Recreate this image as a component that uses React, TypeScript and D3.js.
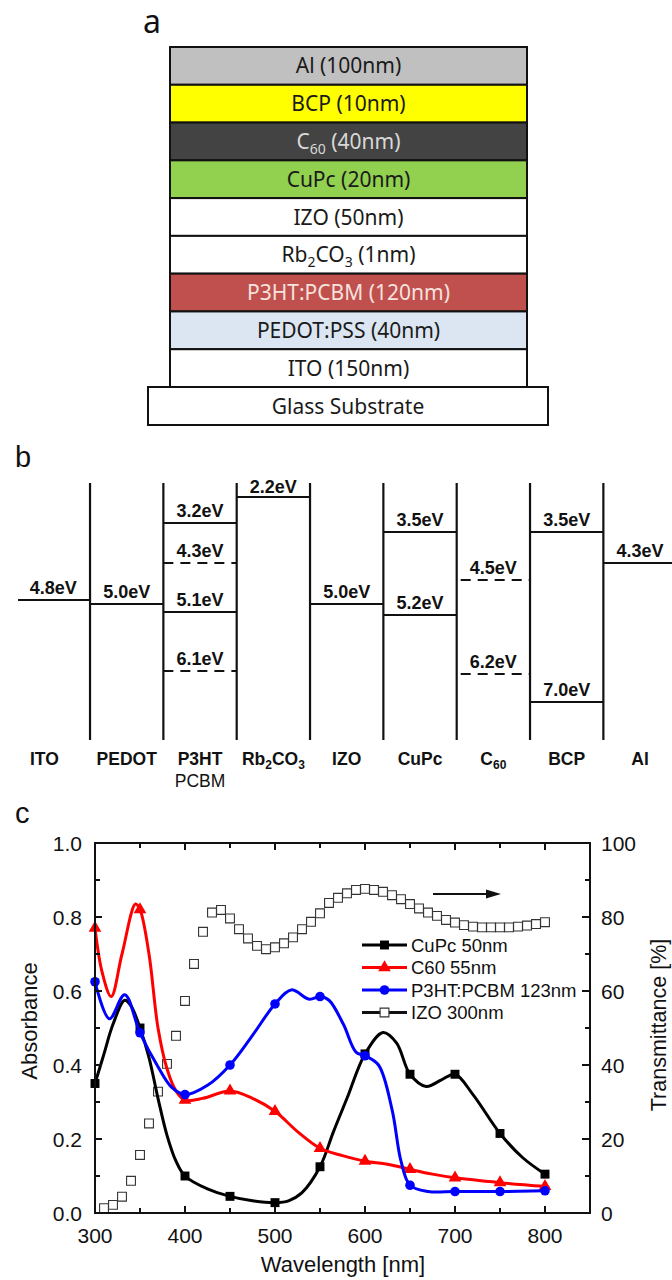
import React from 'react';
import * as d3 from 'd3';

// ---------- panel a : device stack (top to bottom) ----------
const layers = ['Al (100nm)', 'BCP (10nm)', 'C_60 (40nm)', 'CuPc (20nm)', 'IZO (50nm)', 'Rb_2CO_3 (1nm)', 'P3HT:PCBM (120nm)', 'PEDOT:PSS (40nm)', 'ITO (150nm)'];
const substrate = 'Glass Substrate';

// ---------- panel b : energy levels ----------
const materials = ['ITO', 'PEDOT', 'P3HT', 'Rb_2CO_3', 'IZO', 'CuPc', 'C_60', 'BCP', 'Al'];
const levelMaterial = ['ITO', 'PEDOT', 'P3HT', 'P3HT', 'P3HT', 'P3HT', 'Rb_2CO_3', 'IZO', 'CuPc', 'CuPc', 'C_60', 'C_60', 'BCP', 'BCP', 'Al'];
const levelEnergy = [4.8, 5.0, 3.2, 4.3, 5.1, 6.1, 2.2, 5.0, 3.5, 5.2, 4.5, 6.2, 3.5, 7.0, 4.3];
const levelDashed = [false, false, false, true, false, true, false, false, false, false, true, true, false, false, false];

// ---------- panel c : absorbance / transmittance ----------
const cupcWl = [300, 310, 320, 333, 340, 350, 360, 370, 380, 390, 400, 425, 450, 475, 500, 515, 530, 550, 565, 580, 600, 620, 635, 650, 668, 685, 700, 720, 750, 775, 800];
const cupcAbs = [0.35, 0.43, 0.51, 0.575, 0.56, 0.50, 0.42, 0.31, 0.21, 0.14, 0.10, 0.065, 0.045, 0.033, 0.028, 0.033, 0.055, 0.125, 0.22, 0.31, 0.43, 0.488, 0.46, 0.375, 0.342, 0.36, 0.375, 0.32, 0.215, 0.15, 0.105];

const c60Wl = [300, 308, 318, 330, 345, 350, 360, 370, 380, 390, 400, 420, 450, 475, 500, 525, 550, 575, 600, 625, 650, 675, 700, 750, 800];
const c60Abs = [0.77, 0.65, 0.585, 0.70, 0.835, 0.82, 0.70, 0.50, 0.39, 0.33, 0.305, 0.31, 0.33, 0.31, 0.275, 0.22, 0.175, 0.155, 0.14, 0.132, 0.118, 0.105, 0.095, 0.082, 0.072];

const p3htWl = [300, 316, 333, 350, 370, 385, 400, 425, 450, 475, 500, 518, 538, 550, 560, 576, 590, 600, 615, 630, 640, 650, 670, 700, 750, 800];
const p3htAbs = [0.625, 0.525, 0.59, 0.487, 0.395, 0.34, 0.32, 0.345, 0.40, 0.48, 0.565, 0.603, 0.578, 0.585, 0.575, 0.51, 0.435, 0.425, 0.40, 0.28, 0.14, 0.075, 0.058, 0.058, 0.058, 0.06];

const izoWl = [310, 320, 330, 340, 350, 360, 370, 380, 390, 400, 410, 420, 430, 440, 450, 460, 470, 480, 490, 500, 510, 520, 530, 540, 550, 560, 570, 580, 590, 600, 610, 620, 630, 640, 650, 660, 670, 680, 690, 700, 710, 720, 730, 740, 750, 760, 770, 780, 790, 800];
const izoT = [1.3, 2.2, 4.4, 8.7, 15.7, 24.2, 32.8, 40.3, 47.9, 57.3, 67.3, 76, 81.2, 81.9, 79.6, 76.7, 74.2, 72.2, 71.3, 71.8, 72.9, 74.5, 76.7, 78.7, 81, 83.8, 85.2, 86.4, 87.3, 87.6, 87.3, 86.8, 85.9, 84.8, 83.5, 82.3, 81.2, 80.3, 79.2, 78.5, 77.8, 77.4, 77.2, 77.2, 77.2, 77.2, 77.4, 77.7, 78.1, 78.6];

const legendNames = ['CuPc 50nm', 'C60 55nm', 'P3HT:PCBM 123nm', 'IZO 300nm'];

// styles
const layerStyle: Record<string, { bg: string; fg: string }> = {
  'Al (100nm)': { bg: '#c0c0c0', fg: '#1a1a1a' },
  'BCP (10nm)': { bg: '#ffff00', fg: '#1a1a1a' },
  'C_60 (40nm)': { bg: '#434343', fg: '#d8d8d8' },
  'CuPc (20nm)': { bg: '#92d050', fg: '#1a1a1a' },
  'IZO (50nm)': { bg: '#ffffff', fg: '#1a1a1a' },
  'Rb_2CO_3 (1nm)': { bg: '#ffffff', fg: '#1a1a1a' },
  'P3HT:PCBM (120nm)': { bg: '#c0504d', fg: '#f6e2de' },
  'PEDOT:PSS (40nm)': { bg: '#dce6f2', fg: '#1a1a1a' },
  'ITO (150nm)': { bg: '#ffffff', fg: '#1a1a1a' },
};

const ARIAL = '"Liberation Sans", Arial, sans-serif';
const KFONT = '"Noto Sans", "Open Sans", sans-serif';

// text with _digits subscripts
function Rich({ s, sub, shift }: { s: string; sub: number; shift: number }) {
  const raw = s.split(/_(\d+)/).map((t, i) => ({ t, sub: i % 2 === 1 })).filter(p => p.t !== '');
  let prev = false;
  return (
    <>
      {raw.map((p, i) => {
        const dy = p.sub && !prev ? shift : !p.sub && prev ? -shift : 0;
        prev = p.sub;
        return (
          <tspan key={i} dy={dy} fontSize={p.sub ? sub : undefined}>{p.t}</tspan>
        );
      })}
    </>
  );
}

function PanelA() {
  const y = d3.scaleBand().domain(layers).range([47, 387]);
  const x0 = 170, x1 = 527;
  return (
    <g>
      <text x={143} y={33} fontFamily={KFONT} fontSize={32} fill="#111">a</text>
      {layers.map(l => (
        <g key={l}>
          <rect x={x0} y={y(l)} width={x1 - x0} height={y.bandwidth()} fill={layerStyle[l].bg} stroke="#111" strokeWidth={2} />
          <text x={(x0 + x1) / 2} y={(y(l) as number) + y.bandwidth() / 2 + 7.5} textAnchor="middle" fontFamily={KFONT} fontSize={21} fill={layerStyle[l].fg} style={{ whiteSpace: 'pre' }}>
            <Rich s={l} sub={14} shift={5} />
          </text>
        </g>
      ))}
      <rect x={148} y={387} width={400} height={38} fill="#fff" stroke="#111" strokeWidth={2} />
      <text x={348} y={413.5} textAnchor="middle" fontFamily={KFONT} fontSize={21} fill="#1a1a1a">{substrate}</text>
    </g>
  );
}

function PanelB() {
  const xcol = d3.scaleLinear().domain([0, materials.length]).range([16.7, 676.7]);
  const eStops = [2.2, 3.2, 3.5, 4.3, 4.5, 4.8, 5.0, 5.1, 5.2, 6.1, 6.2, 7.0];
  // the drawing is schematic (not to scale): piecewise scale
  const yE = d3.scaleLinear().domain(eStops).range([497, 523, 532, 563, 580, 600, 604, 612, 615, 671, 674, 702]);
  const top = 483, bottom = 740;
  return (
    <g fontFamily={ARIAL}>
      <text x={15} y={467} fontSize={29} fill="#111">b</text>
      {d3.range(1, materials.length).map(i => (
        <line key={i} x1={xcol(i)} x2={xcol(i)} y1={top} y2={bottom} stroke="#111" strokeWidth={2.2} />
      ))}
      {levelEnergy.map((e, k) => {
        const ci = materials.indexOf(levelMaterial[k]);
        let xa = xcol(ci), xb = xcol(ci + 1);
        if (ci === 0) xa = 18;
        if (ci === materials.length - 1) xb = 672;
        if (levelDashed[k] && levelMaterial[k] === 'C_60') xa += 4;
        const yy = yE(e);
        return (
          <g key={k}>
            <line x1={xa} x2={xb} y1={yy} y2={yy} stroke="#111" strokeWidth={2}
              strokeDasharray={levelDashed[k] ? '10 7' : undefined} />
            <text x={(xcol(ci) + xcol(ci + 1)) / 2} y={yy - (e < 2.5 ? 4 : 6)} textAnchor="middle" fontSize={18} fontWeight="bold" fill="#111">
              {d3.format('.1f')(e)}eV
            </text>
          </g>
        );
      })}
      {materials.map((m, i) => (
        <text key={m} x={(xcol(i) + xcol(i + 1)) / 2 + (i === 0 ? -9 : 0)} y={765} textAnchor="middle" fontSize={17.5} fontWeight="bold" fill="#111">
          <Rich s={m} sub={12} shift={4} />
        </text>
      ))}
      <text x={(xcol(2) + xcol(3)) / 2} y={787} textAnchor="middle" fontSize={17.5} fill="#111">PCBM</text>
    </g>
  );
}

function PanelC() {
  const L = 95, R = 590, T = 843, B = 1213;
  const x = d3.scaleLinear().domain([300, 850]).range([L, R]);
  const yL = d3.scaleLinear().domain([0, 1]).range([B, T]);
  const yR = d3.scaleLinear().domain([0, 100]).range([B, T]);

  const line = d3.line<[number, number]>()
    .x(d => x(d[0]))
    .y(d => yL(d[1]))
    .curve(d3.curveCatmullRom.alpha(0.5));

  const series = [
    { wl: cupcWl, v: cupcAbs, color: '#000000', type: d3.symbolSquare, size: 80 },
    { wl: c60Wl, v: c60Abs, color: '#ff0000', type: d3.symbolTriangle, size: 70 },
    { wl: p3htWl, v: p3htAbs, color: '#0000ff', type: d3.symbolCircle, size: 72 },
  ];

  const xMajor = x.ticks(5).filter(t => t < 850);
  const xMinor = x.ticks(11).filter(t => t < 850 && t > 300);
  const yMajor = yL.ticks(5);
  const yMinor = yL.ticks(10);
  const rMajor = yR.ticks(5);
  const rMinor = yR.ticks(10);

  const lx0 = 362, lx1 = 407, ltx = 411;
  const legY = [945, 967.5, 990, 1012.5];

  return (
    <g fontFamily={ARIAL}>
      <text x={15} y={823} fontSize={29} fill="#111">c</text>

      {/* IZO transmittance (right axis) */}
      {izoWl.map((w, i) => (
        <path key={w} transform={`translate(${x(w)},${yR(izoT[i])})`} d={d3.symbol(d3.symbolSquare, 78)() as string}
          fill="#fff" stroke="#333" strokeWidth={1.1} />
      ))}

      {series.map((s, si) => {
        const pts = s.wl.map((w, i) => [w, s.v[i]] as [number, number]);
        return (
          <g key={si}>
            <path d={line(pts) as string} fill="none" stroke={s.color} strokeWidth={3} />
            {pts.filter(p => p[0] % 50 === 0).map(p => (
              <path key={p[0]} transform={`translate(${x(p[0])},${yL(p[1])})`} d={d3.symbol(s.type, s.size)() as string} fill={s.color} />
            ))}
          </g>
        );
      })}

      {/* arrow pointing to the right axis */}
      <line x1={433} x2={489} y1={894} y2={894} stroke="#111" strokeWidth={2} />
      <path d="M486,889.5 L501,894 L486,898.5 Z" fill="#111" />

      {/* legend */}
      {legendNames.map((n, i) => {
        const yy = legY[i];
        const s = series[i];
        return (
          <g key={n}>
            {i < 3 ? (
              <>
                <line x1={lx0} x2={lx1} y1={yy} y2={yy} stroke={s.color} strokeWidth={3} />
                <path transform={`translate(${(lx0 + lx1) / 2},${yy})`} d={d3.symbol(s.type, s.size)() as string} fill={s.color} />
              </>
            ) : (
              <>
                <line x1={lx0} x2={lx1} y1={yy} y2={yy} stroke="#111" strokeWidth={3} />
                <path transform={`translate(${(lx0 + lx1) / 2},${yy})`} d={d3.symbol(d3.symbolSquare, 78)() as string} fill="#fff" stroke="#333" strokeWidth={1.1} />
              </>
            )}
            <text x={ltx} y={yy + 6.5} fontSize={18.5} fill="#111">{n}</text>
          </g>
        );
      })}

      {/* frame */}
      <rect x={L} y={T} width={R - L} height={B - T} fill="none" stroke="#111" strokeWidth={2} />

      {/* x ticks bottom & top */}
      {xMajor.map(t => (
        <g key={'xM' + t}>
          <line x1={x(t)} x2={x(t)} y1={B} y2={B - 7} stroke="#111" strokeWidth={2} />
          <line x1={x(t)} x2={x(t)} y1={T} y2={T + 7} stroke="#111" strokeWidth={2} />
          <text x={x(t)} y={1243} textAnchor="middle" fontSize={21} fill="#111">{t}</text>
        </g>
      ))}
      {xMinor.filter(t => !xMajor.includes(t)).map(t => (
        <g key={'xm' + t}>
          <line x1={x(t)} x2={x(t)} y1={B} y2={B - 5} stroke="#111" strokeWidth={2} />
          <line x1={x(t)} x2={x(t)} y1={T} y2={T + 5} stroke="#111" strokeWidth={2} />
        </g>
      ))}

      {/* left axis */}
      {yMajor.map(t => (
        <g key={'yM' + t}>
          <line x1={L} x2={L + 7} y1={yL(t)} y2={yL(t)} stroke="#111" strokeWidth={2} />
          <text x={82} y={yL(t) + 7.5} textAnchor="end" fontSize={21} fill="#111">{d3.format('.1f')(t)}</text>
        </g>
      ))}
      {yMinor.filter(t => !yMajor.includes(t)).map(t => (
        <line key={'ym' + t} x1={L} x2={L + 5} y1={yL(t)} y2={yL(t)} stroke="#111" strokeWidth={2} />
      ))}

      {/* right axis */}
      {rMajor.map(t => (
        <g key={'rM' + t}>
          <line x1={R} x2={R - 8} y1={yR(t)} y2={yR(t)} stroke="#111" strokeWidth={2} />
          <text x={601} y={yR(t) + 7.5} fontSize={21} fill="#111">{t}</text>
        </g>
      ))}
      {rMinor.filter(t => !rMajor.includes(t)).map(t => (
        <line key={'rm' + t} x1={R} x2={R - 5} y1={yR(t)} y2={yR(t)} stroke="#111" strokeWidth={2} />
      ))}

      {/* axis titles */}
      <text x={343} y={1272} textAnchor="middle" fontSize={22} fill="#111">Wavelength [nm]</text>
      <text transform="translate(37,1021) rotate(-90)" textAnchor="middle" fontSize={22} fill="#111">Absorbance</text>
      <text transform="translate(666,1025) rotate(-90)" textAnchor="middle" fontSize={21.5} fill="#111">Transmittance [%]</text>
    </g>
  );
}

export default function App() {
  return (
    <svg width={672} height={1280} style={{ position: 'absolute', left: 0, top: 0, background: '#fff' }}>
      <rect width={672} height={1280} fill="#fff" />
      <PanelA />
      <PanelB />
      <PanelC />
    </svg>
  );
}
